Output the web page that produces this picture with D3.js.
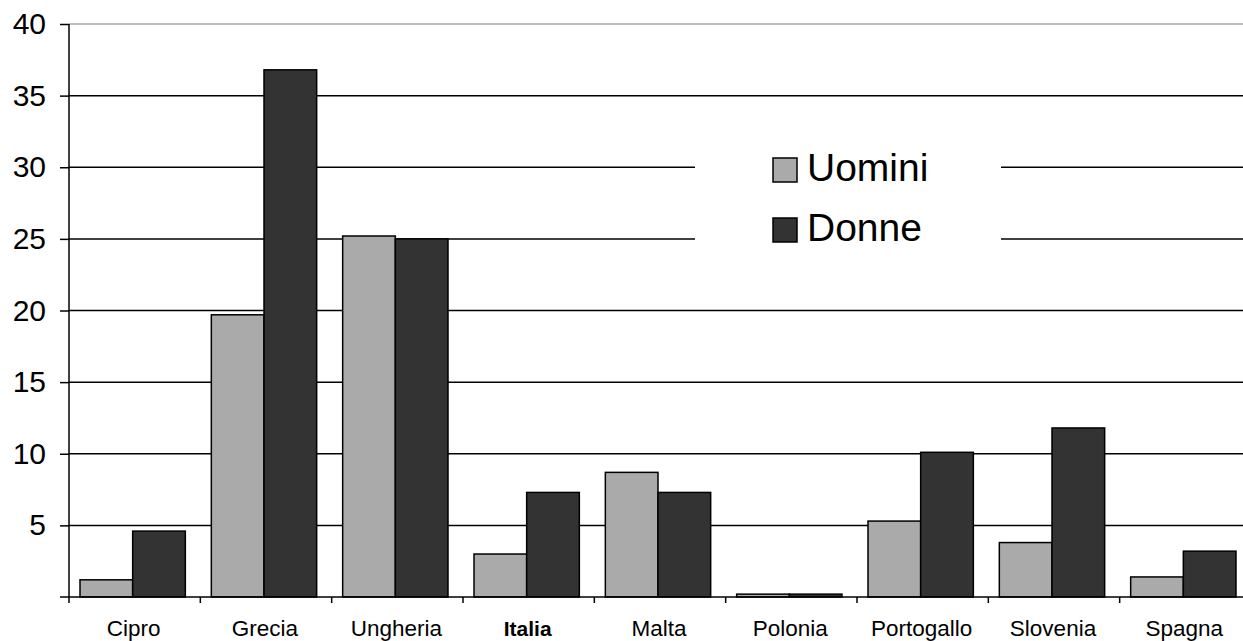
<!DOCTYPE html>
<html>
<head>
<meta charset="utf-8">
<script src="https://cdn.jsdelivr.net/npm/d3@7"></script>
<style>
  body { margin: 0; background: #fff; }
  svg { display: block; font-family: "Liberation Sans", Arial, sans-serif; }
</style>
</head>
<body>
<div id="chart"></div>
<script>
// data
const categories = ["Cipro", "Grecia", "Ungheria", "Italia", "Malta", "Polonia", "Portogallo", "Slovenia", "Spagna"];
const uomini = [1.2, 19.7, 25.2, 3.0, 8.7, 0.2, 5.3, 3.8, 1.4];
const donne = [4.6, 36.8, 25.0, 7.3, 7.3, 0.2, 10.1, 11.8, 3.2];
const seriesNames = ["Uomini", "Donne"];
const yTicks = [5, 10, 15, 20, 25, 30, 35, 40];

const W = 1243, H = 641;
const colors = ["#aaaaaa", "#333333"];

let svg = d3.select("#chart").append("svg")
    .attr("width", W)
    .attr("height", H);

// scales
let x = d3.scaleBand()
    .domain(categories)
    .range([69, 1251]);

let x1 = d3.scaleBand()
    .domain(seriesNames)
    .range([11, x.bandwidth() - 15]);

let y = d3.scaleLinear()
    .domain([0, 40])
    .range([597, 24]);

// gridlines
svg.append("g")
    .selectAll("line")
    .data(yTicks)
    .enter()
    .append("line")
    .attr("x1", 69)
    .attr("x2", W)
    .attr("y1", d => y(d))
    .attr("y2", d => y(d))
    .attr("stroke", d => d === 40 ? "#aaaaaa" : "#000")
    .attr("stroke-width", 1.5);

// legend background hides the gridlines behind it
svg.append("rect")
    .attr("x", 695)
    .attr("y", 130)
    .attr("width", 306)
    .attr("height", 135)
    .attr("fill", "#fff");

// bars
let rows = categories.map((c, i) => ({ cat: c, vals: [uomini[i], donne[i]] }));

let group = svg.selectAll(".grp")
    .data(rows)
    .enter()
    .append("g")
    .attr("transform", d => "translate(" + x(d.cat) + ",0)");

group.selectAll("rect")
    .data(d => d.vals.map((v, k) => ({ name: seriesNames[k], v: v, k: k })))
    .enter()
    .append("rect")
    .attr("x", d => x1(d.name))
    .attr("width", x1.bandwidth())
    .attr("y", d => y(d.v))
    .attr("height", d => y(0) - y(d.v))
    .attr("fill", d => colors[d.k])
    .attr("stroke", "#000")
    .attr("stroke-width", 1.5);

// y axis
let yAxis = d3.axisLeft(y)
    .tickValues(yTicks)
    .tickSize(9)
    .tickPadding(14);

let ya = svg.append("g")
    .attr("transform", "translate(69,0)")
    .call(yAxis);
ya.select(".domain").remove();
ya.selectAll(".tick line").attr("stroke", "#000").attr("stroke-width", 1.5);
ya.selectAll(".tick text")
    .attr("font-size", 30)
    .attr("font-family", "Liberation Sans, Arial, sans-serif")
    .attr("fill", "#000");

svg.append("line")
    .attr("x1", 69).attr("x2", 69)
    .attr("y1", 24).attr("y2", 603)
    .attr("stroke", "#000")
    .attr("stroke-width", 1.5);

svg.append("line")
    .attr("x1", 60).attr("x2", W)
    .attr("y1", 597).attr("y2", 597)
    .attr("stroke", "#000")
    .attr("stroke-width", 1.5);

// category ticks between groups
svg.append("g")
    .selectAll("line")
    .data(categories.slice(1))
    .enter()
    .append("line")
    .attr("x1", d => x(d))
    .attr("x2", d => x(d))
    .attr("y1", 597)
    .attr("y2", 603)
    .attr("stroke", "#000")
    .attr("stroke-width", 1.5);

// category labels
svg.append("g")
    .selectAll("text")
    .data(categories)
    .enter()
    .append("text")
    .attr("x", d => x(d) + x.bandwidth() / 2 - 1)
    .attr("y", 636)
    .attr("text-anchor", "middle")
    .attr("font-size", d => d === "Italia" ? 21 : 22.5)
    .attr("font-weight", d => d === "Italia" ? "bold" : "normal")
    .text(d => d);

// legend
let legend = svg.selectAll(".leg")
    .data(seriesNames)
    .enter()
    .append("g")
    .attr("transform", (d, i) => "translate(773," + (158 + i * 60) + ")");

legend.append("rect")
    .attr("width", 24)
    .attr("height", 24)
    .attr("fill", (d, i) => colors[i])
    .attr("stroke", "#000")
    .attr("stroke-width", 1.5);

legend.append("text")
    .attr("x", 34)
    .attr("y", 23)
    .attr("font-size", 39)
    .text(d => d);
</script>
</body>
</html>
